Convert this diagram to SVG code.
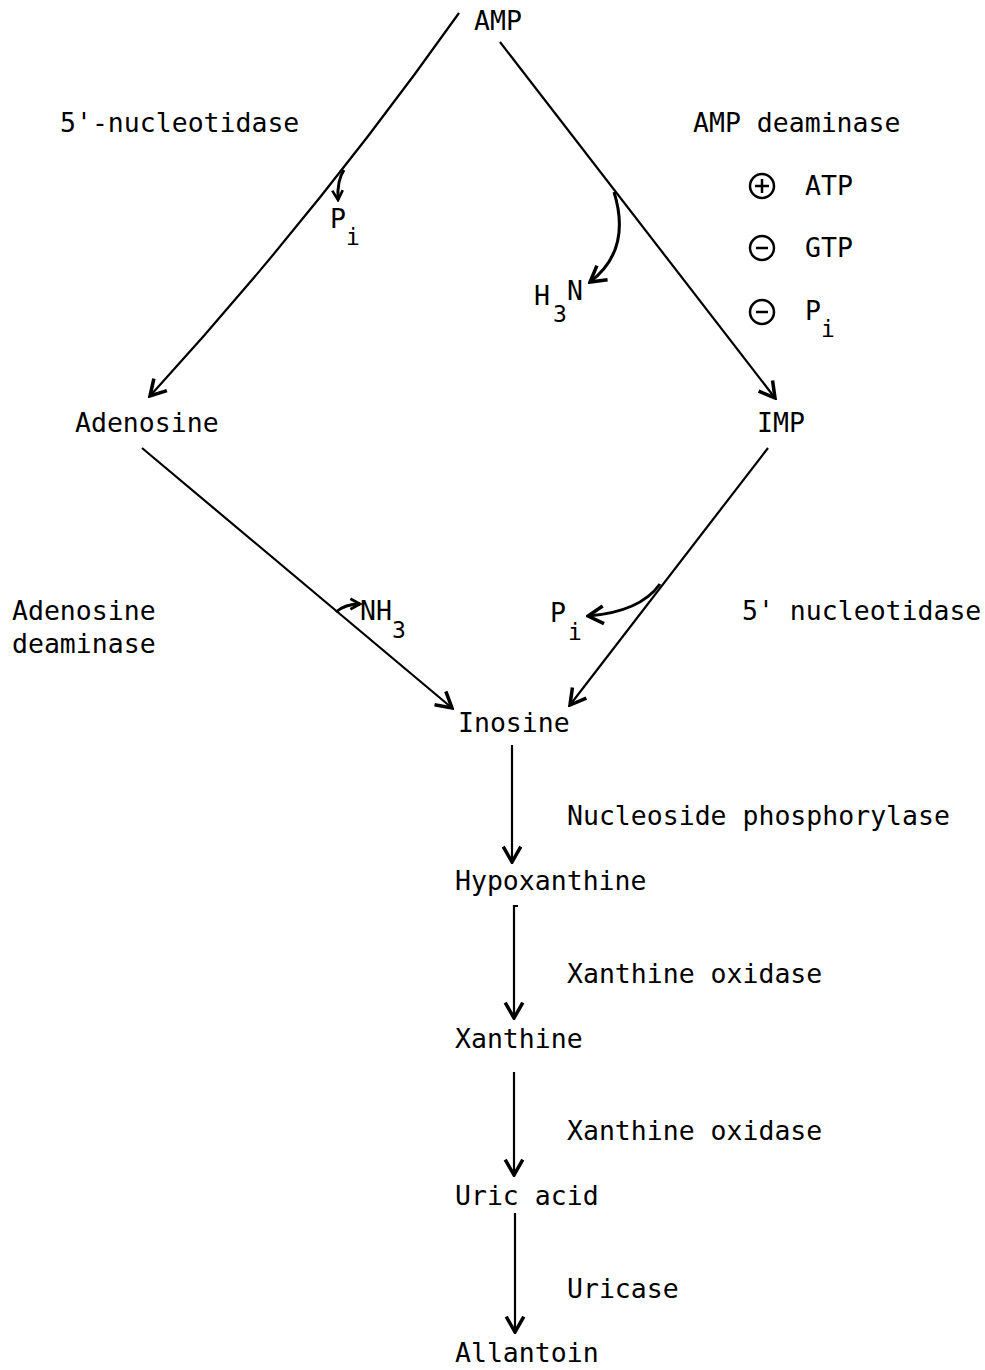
<svg xmlns="http://www.w3.org/2000/svg" width="985" height="1370" viewBox="0 0 985 1370">
<style>
text{font-family:"DejaVu Sans Mono","Liberation Mono",monospace;font-size:26.5px;fill:#000}
.sub{font-size:23px}
.ln{fill:none;stroke:#000;stroke-width:2.2}
.cv{fill:none;stroke:#000;stroke-width:3}
.ci{fill:none;stroke:#000;stroke-width:2.5}
</style>
<defs>
<marker id="ah" viewBox="0 0 20 20" refX="18" refY="10" markerWidth="22" markerHeight="22" markerUnits="userSpaceOnUse" orient="auto">
<path d="M4,2 L18,10 L4,18" fill="none" stroke="#000" stroke-width="3.2"/>
</marker>
<marker id="ahs" viewBox="0 0 16 16" refX="14" refY="8" markerWidth="14" markerHeight="14" markerUnits="userSpaceOnUse" orient="auto">
<path d="M3,2 L14,8 L3,14" fill="none" stroke="#000" stroke-width="3"/>
</marker>
</defs>
<rect width="985" height="1370" fill="#fff"/>
<g id="connectors">
<path class="ln" d="M459,13 Q318,212 150,396" marker-end="url(#ah)"/>
<line class="ln" x1="500" y1="42" x2="775" y2="398" marker-end="url(#ah)"/>
<path class="cv" d="M344,170 Q337,180 338,200" marker-end="url(#ahs)"/>
<path class="cv" d="M614,192 Q632,250 590,282" marker-end="url(#ah)"/>
<line class="ln" x1="142" y1="448" x2="452" y2="708" marker-end="url(#ah)"/>
<path class="cv" d="M336,612 Q345,604 360,604" marker-end="url(#ahs)"/>
<line class="ln" x1="768" y1="448" x2="570" y2="705" marker-end="url(#ah)"/>
<path class="cv" d="M660,584 Q640,612 588,616" marker-end="url(#ah)"/>
<line class="ln" x1="512" y1="745" x2="512" y2="862" marker-end="url(#ah)"/>
<path class="ln" d="M518,906 L514,906 L514,1018" marker-end="url(#ah)"/>
<line class="ln" x1="514" y1="1072" x2="514" y2="1175" marker-end="url(#ah)"/>
<line class="ln" x1="515" y1="1213" x2="515" y2="1332" marker-end="url(#ah)"/>
</g>
<g id="AMP"><text x="474" y="30">AMP</text></g>
<g id="label-5nt-left"><text x="60" y="132">5'-nucleotidase</text></g>
<g id="label-AMP-deaminase"><text x="693" y="132">AMP deaminase</text></g>
<g id="reg-ATP"><circle class="ci" cx="762" cy="186" r="12"/><path class="ci" d="M755,186 H769 M762,179 V193"/><text x="805" y="195">ATP</text></g>
<g id="reg-GTP"><circle class="ci" cx="762" cy="248" r="12"/><path class="ci" d="M756,248 H768"/><text x="805" y="257">GTP</text></g>
<g id="reg-Pi"><circle class="ci" cx="762" cy="312" r="12"/><path class="ci" d="M756,312 H768"/><text x="805" y="320">P</text><text class="sub" x="821" y="337">i</text></g>
<g id="Pi-left"><text x="330" y="228">P</text><text class="sub" x="346" y="245">i</text></g>
<g id="H3N"><text x="534" y="305">H</text><text class="sub" x="553" y="322">3</text><text x="567" y="300">N</text></g>
<g id="Adenosine"><text x="75" y="432">Adenosine</text></g>
<g id="IMP"><text x="757" y="432">IMP</text></g>
<g id="label-adenosine-deaminase"><text x="12" y="620">Adenosine</text><text x="12" y="653">deaminase</text></g>
<g id="NH3"><text x="360" y="620">NH</text><text class="sub" x="392" y="638">3</text></g>
<g id="Pi-right"><text x="550" y="622">P</text><text class="sub" x="568" y="640">i</text></g>
<g id="label-5nt-right"><text x="742" y="620">5' nucleotidase</text></g>
<g id="Inosine"><text x="458" y="732">Inosine</text></g>
<g id="label-nucleoside-phosphorylase"><text x="567" y="825">Nucleoside phosphorylase</text></g>
<g id="Hypoxanthine"><text x="455" y="890">Hypoxanthine</text></g>
<g id="label-xo1"><text x="567" y="983">Xanthine oxidase</text></g>
<g id="Xanthine"><text x="455" y="1048">Xanthine</text></g>
<g id="label-xo2"><text x="567" y="1140">Xanthine oxidase</text></g>
<g id="Uric-acid"><text x="455" y="1205">Uric acid</text></g>
<g id="label-uricase"><text x="567" y="1298">Uricase</text></g>
<g id="Allantoin"><text x="455" y="1362">Allantoin</text></g>
</svg>
